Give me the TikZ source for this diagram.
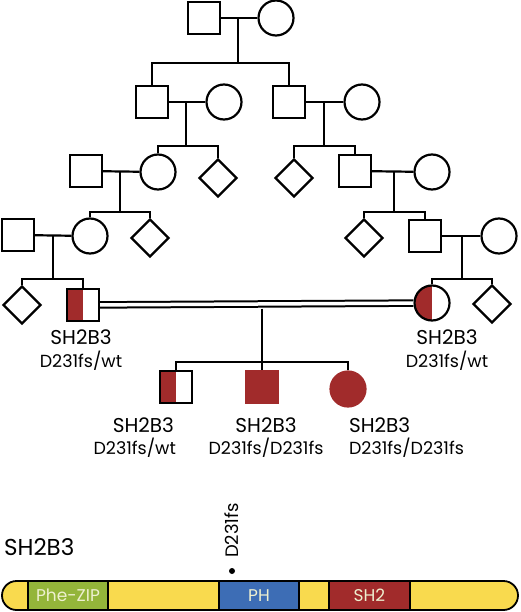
\documentclass[tikz,border=0pt]{standalone}
\usepackage{fontspec}
\setmainfont{Poppins}
\usetikzlibrary{shapes.geometric, positioning, calc}

\definecolor{sred}{HTML}{A12B2B}
\definecolor{syellow}{HTML}{F9DA4E}
\definecolor{sgreen}{HTML}{94B53A}
\definecolor{sblue}{HTML}{3D6DB5}
\definecolor{stext}{HTML}{EEF0D0}

\begin{document}
\begin{tikzpicture}[
  x=1pt, y=-1pt,
  every path/.style={line width=2.2pt},
  male/.style={draw, rectangle, minimum size=32pt, inner sep=0pt},
  female/.style={draw, circle, minimum size=35pt, inner sep=0pt},
  unk/.style={draw, diamond, minimum size=38pt, inner sep=0pt},
  half/.style={path picture={\fill[sred] (path picture bounding box.south west)
              rectangle (path picture bounding box.north);}},
  aff/.style={fill=sred, draw=sred},
  gene/.style={font=\fontsize{20}{22}\selectfont, inner sep=0pt},
  geno/.style={font=\fontsize{17.5}{19}\selectfont, inner sep=0pt},
  dom/.style={draw, rectangle, minimum height=29pt, inner sep=0pt, line width=1.8pt,
              text=stext, font=\fontsize{17}{19}\selectfont}
]
\useasboundingbox (0,0) rectangle (520,612);

% generation I
\node[male]   (i1) at (204,18) {};
\node[female] (i2) at (276,18) {};
% generation II
\node[male]   (ii1) at (152,102) {};
\node[female] (ii2) at (224,102) {};
\node[male]   (ii3) at (289,102) {};
\node[female] (ii4) at (362,102) {};
% generation III
\node[male]   (iii1) at (86,171) {};
\node[female] (iii2) at (158,172) {};
\node[unk]    (iii3) at (218,178) {};
\node[unk]    (iii4) at (294,178) {};
\node[male]   (iii5) at (355,171) {};
\node[female] (iii6) at (432,172) {};
% generation IV
\node[male]   (iv1) at (18,235) {};
\node[female] (iv2) at (90,236) {};
\node[unk]    (iv3) at (150,238) {};
\node[unk]    (iv4) at (364,238) {};
\node[male]   (iv5) at (425,236) {};
\node[female] (iv6) at (499,236) {};
% generation V
\node[unk]          (v1) at (22,305) {};
\node[male, half]   (v2) at (83,305) {};
\node[female, half] (v3) at (432,303) {};
\node[unk]          (v4) at (492,304) {};
% generation VI
\node[male, half]   (vi1) at (176,387) {};
\node[male, aff]    (vi2) at (262,387) {};
\node[female, aff]  (vi3) at (348,389) {};

% couples
\draw (i1) -- (i2);
\draw (ii1) -- (ii2);
\draw (ii3) -- (ii4);
\draw (iii1) -- (iii2);
\draw (iii5) -- (iii6);
\draw (iv1) -- (iv2);
\draw (iv5) -- (iv6);
\draw[double, double distance=3.5pt, line width=2pt] (v2) -- (v3);

% sibships
\coordinate (s1) at (238,63);
\coordinate (s2) at (186,146);
\coordinate (s3) at (324,146);
\coordinate (s4) at (120,212);
\coordinate (s5) at (394,212);
\coordinate (s6) at (53,279);
\coordinate (s7) at (462,279);
\coordinate (s8) at (262,362);
\draw (s1 |- i1) -- (s1);
\draw (ii1.north) |- (s1) -| (ii3.north);
\draw (s2 |- ii1) -- (s2);
\draw (iii2.north) |- (s2) -| (iii3.north);
\draw (s3 |- ii3) -- (s3);
\draw (iii4.north) |- (s3) -| (iii5.north);
\draw (s4 |- iii1) -- (s4);
\draw (iv2.north) |- (s4) -| (iv3.north);
\draw (s5 |- iii5) -- (s5);
\draw (iv4.north) |- (s5) -| (iv5.north);
\draw (s6 |- iv1) -- (s6);
\draw (v1.north) |- (s6) -| (v2.north);
\draw (s7 |- iv5) -- (s7);
\draw (v3.north) |- (s7) -| (v4.north);
\draw ($(s8 |- v2)+(0,3.5)$) -- (s8);
\draw (vi1.north) |- (s8) -| (vi3.north);
\draw (s8) -- (vi2.north);

% genotypes
\node[gene] (g2) at (81,337) {SH2B3};
\node[geno] (t2) at (81,361) {D231fs/wt};
\node[gene] (g3) at (447,337) {SH2B3};
\node[geno] (t3) at (447,361) {D231fs/wt};
\node[gene, anchor=east] (g4) at (175,425) {SH2B3};
\node[geno, anchor=east] (t4) at (177,448) {D231fs/wt};
\node[gene] (g5) at (266,425) {SH2B3};
\node[geno] (t5) at (266,448) {D231fs/D231fs};
\node[gene, anchor=west] (g6) at (348,425) {SH2B3};
\node[geno, anchor=west] (t6) at (348,448) {D231fs/D231fs};

% protein
\node[font=\fontsize{23}{25}\selectfont, anchor=west, inner sep=0pt] (prot) at (3,547) {SH2B3};
\draw[fill=syellow, rounded corners=14.5pt, line width=1.8pt] (2,581) rectangle (518,610);
\node[dom, fill=sgreen, minimum width=80pt] (zip) at (68,595.5) {Phe-ZIP};
\node[dom, fill=sblue, minimum width=80pt] (ph) at (259,595.5) {PH};
\node[dom, fill=sred, minimum width=81pt] (sh2) at (369.5,595.5) {SH2};
\node[circle, fill, inner sep=0pt, minimum size=6pt] (mut) at (232,571) {};
\node[rotate=90, anchor=west, inner sep=0pt, font=\fontsize{18}{20}\selectfont] (mutl) at (232,559) {D231fs};
\end{tikzpicture}
\end{document}
